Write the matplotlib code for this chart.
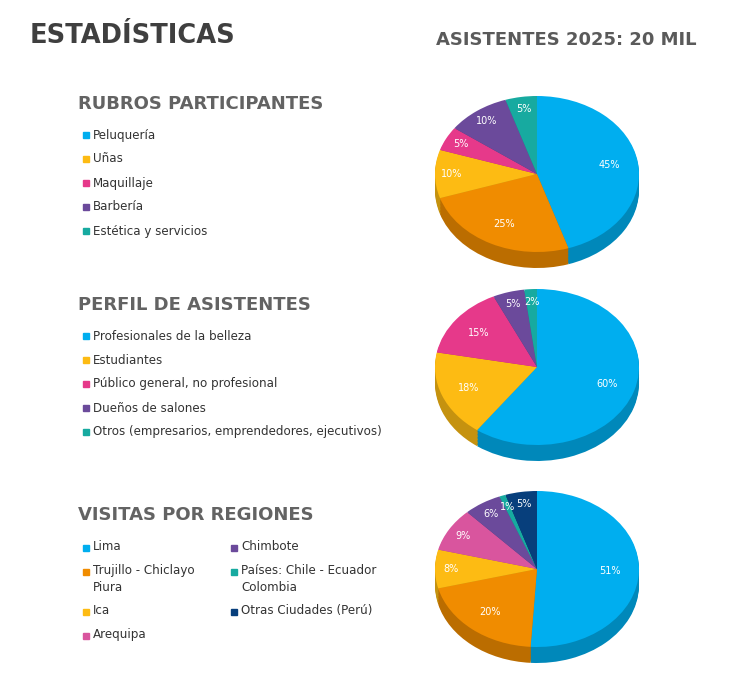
import matplotlib.pyplot as plt
import matplotlib.colors as mcolors
import numpy as np

W, H = 742, 676

BLUE = '#00aeef'
ORANGE = '#f08c00'
YELLOW = '#fdbb13'
PINK = '#e6398a'
PURPLE = '#6b4a9b'
TEAL = '#17aaa0'
ROSE = '#d9559e'
NAVY = '#073f7c'

rubros_labels = ['Peluquería', 'Uñas', 'Maquillaje', 'Barbería', 'Estética y servicios']
rubros_vals = [45, 25, 10, 5, 10, 5]
rubros_cols = [BLUE, ORANGE, YELLOW, PINK, PURPLE, TEAL]
rubros_leg_cols = [BLUE, YELLOW, PINK, PURPLE, TEAL]

perfil_labels = ['Profesionales de la belleza', 'Estudiantes', 'Público general, no profesional',
                 'Dueños de salones', 'Otros (empresarios, emprendedores, ejecutivos)']
perfil_vals = [60, 18, 15, 5, 2]
perfil_cols = [BLUE, YELLOW, PINK, PURPLE, TEAL]

regiones_vals = [51, 20, 8, 9, 6, 1, 5]
regiones_cols = [BLUE, ORANGE, YELLOW, ROSE, PURPLE, TEAL, NAVY]
regiones_left = ['Lima', 'Trujillo - Chiclayo\nPiura', 'Ica', 'Arequipa']
regiones_left_cols = [BLUE, ORANGE, YELLOW, ROSE]
regiones_right = ['Chimbote', 'Países: Chile - Ecuador\nColombia', 'Otras Ciudades (Perú)']
regiones_right_cols = [PURPLE, TEAL, NAVY]

fig = plt.figure(figsize=(W / 100, H / 100), dpi=100)
plt.rcParams['font.family'] = ['DejaVu Sans']


def px(x, y):
    return x / W, 1 - y / H


def darker(c, f=0.78):
    r, g, b = mcolors.to_rgb(c)
    return (r * f, g * f, b * f)


def pie3d(cx, cy, rx, ry, depth, vals, cols):
    d = depth / ry
    ax = fig.add_axes([(cx - rx) / W, 1 - (cy + ry + depth) / H, 2 * rx / W, (2 * ry + depth) / H])
    for off in np.linspace(-d, 0, 12)[:-1]:
        ax.pie(vals, colors=[darker(c) for c in cols], startangle=90, counterclock=False,
               center=(0, off), radius=1)
    wedges, texts, autotexts = ax.pie(vals, colors=cols, startangle=90, counterclock=False, radius=1,
                                      autopct='%d%%', pctdistance=0.72,
                                      textprops=dict(color='white', fontsize=7))
    # small slices: labels closer to the rim
    for v, w, t in zip(vals, wedges, autotexts):
        if v <= 10:
            ang = np.deg2rad((w.theta1 + w.theta2) / 2)
            t.set_position((0.84 * np.cos(ang), 0.84 * np.sin(ang)))
    ax.set_aspect('auto')
    ax.set_xlim(-1, 1)
    ax.set_ylim(-1 - d, 1)
    ax.axis('off')


def legend(x, y, labels, cols, step=24):
    for i, (lab, c) in enumerate(zip(labels, cols)):
        yy = y + i * step
        fig.patches.append(plt.Rectangle(px(x, yy + 3), 6 / W, 6 / H, color=c,
                                         transform=fig.transFigure, figure=fig))
        fig.text(*px(x + 10, yy), lab, fontsize=8.6, color='#333333', va='center', linespacing=1.3)


fig.text(*px(30, 36), 'ESTADÍSTICAS', fontsize=18.5, fontweight='bold', color='#3f3f3f', va='center')
fig.text(*px(697, 40), 'ASISTENTES 2025: 20 MIL', fontsize=13, fontweight='bold',
         color='#5a5a5a', va='center', ha='right')

fig.text(*px(78, 104), 'RUBROS PARTICIPANTES', fontsize=13, fontweight='bold', color='#636363', va='center')
legend(83, 135, rubros_labels, rubros_leg_cols)
pie3d(537, 174, 102, 78, 16, rubros_vals, rubros_cols)

fig.text(*px(78, 305), 'PERFIL DE ASISTENTES', fontsize=13, fontweight='bold', color='#636363', va='center')
legend(83, 336, perfil_labels, perfil_cols)
pie3d(537, 367, 102, 78, 16, perfil_vals, perfil_cols)

fig.text(*px(78, 515), 'VISITAS POR REGIONES', fontsize=13, fontweight='bold', color='#636363', va='center')
for i, (lab, c) in enumerate(zip(regiones_left, regiones_left_cols)):
    yy = [548, 572, 612, 636][i]
    fig.patches.append(plt.Rectangle(px(83, yy + 3), 6 / W, 6 / H, color=c, transform=fig.transFigure, figure=fig))
    fig.text(*px(93, yy - 8), lab, fontsize=8.6, color='#333333', va='top', linespacing=1.4)
for i, (lab, c) in enumerate(zip(regiones_right, regiones_right_cols)):
    yy = [548, 572, 612][i]
    fig.patches.append(plt.Rectangle(px(231, yy + 3), 6 / W, 6 / H, color=c, transform=fig.transFigure, figure=fig))
    fig.text(*px(241, yy - 8), lab, fontsize=8.6, color='#333333', va='top', linespacing=1.4)
pie3d(537, 569, 102, 78, 16, regiones_vals, regiones_cols)

fig.savefig('out.png', dpi=100, facecolor='white')
